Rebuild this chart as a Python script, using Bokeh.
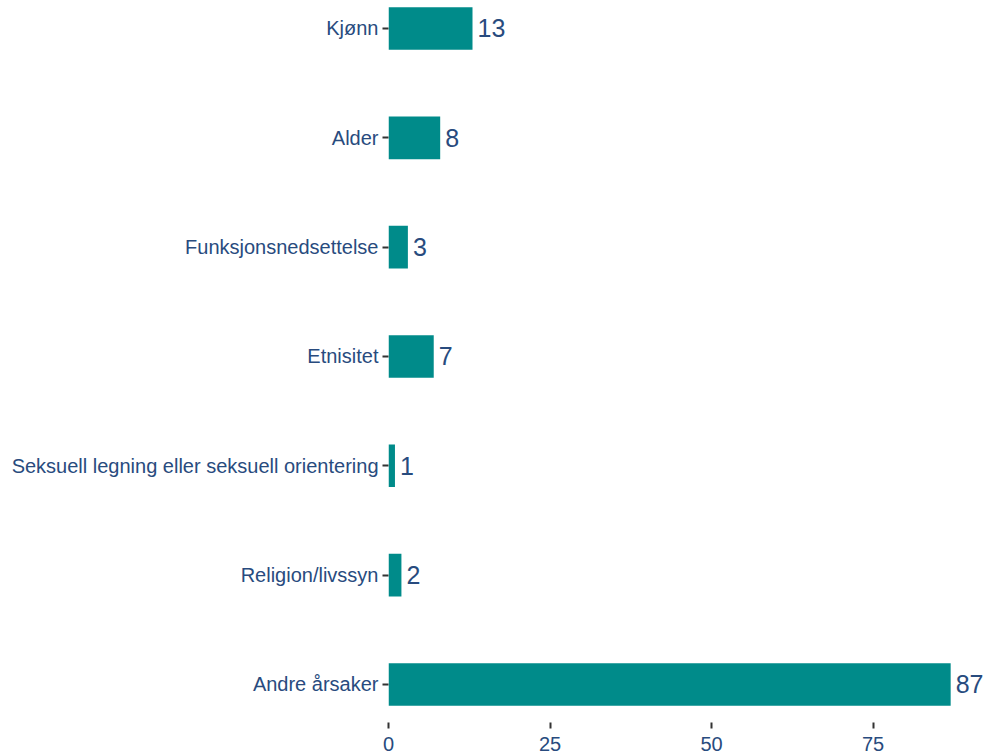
from bokeh.plotting import figure
from bokeh.models import ColumnDataSource, Range1d, FixedTicker, LabelSet
from bokeh.core.properties import value
from bokeh.embed import file_html
from bokeh.resources import INLINE

categories = ["Kjønn", "Alder", "Funksjonsnedsettelse", "Etnisitet",
              "Seksuell legning eller seksuell orientering", "Religion/livssyn",
              "Andre årsaker"]
values = [13, 8, 3, 7, 1, 2, 87]
x_ticks = [0, 25, 50, 75]

FONT = "Liberation Sans"
TEXT_COLOR = "#284B7E"
BAR_COLOR = "#008B8A"

pos = list(range(len(categories)))
src = ColumnDataSource(dict(y=pos, value=values, label=[str(v) for v in values]))

p = figure(width=987, height=755, output_backend="svg", toolbar_location=None,
           x_range=Range1d(0, 92.7), y_range=Range1d(6.348, -0.256),
           min_border_left=388, min_border_right=0, min_border_top=0,
           min_border_bottom=33)
p.outline_line_color = None
p.xgrid.grid_line_color = None
p.ygrid.grid_line_color = None

p.hbar(y="y", right="value", left=0, height=0.39, source=src,
       fill_color=BAR_COLOR, line_color=None)

labels = LabelSet(x="value", y="y", text="label", source=src, x_offset=5,
                  text_baseline="middle", text_align="left",
                  text_font=value(FONT), text_font_size="25px",
                  text_color=TEXT_COLOR)
p.add_layout(labels)

for ax in (p.xaxis[0], p.yaxis[0]):
    ax.axis_line_color = None
    ax.major_tick_in = 0
    ax.major_tick_out = 6
    ax.major_tick_line_color = "#333333"
    ax.major_tick_line_width = 2
    ax.minor_tick_line_color = None
    ax.major_label_text_font = FONT
    ax.major_label_text_font_size = "20px"
    ax.major_label_text_color = TEXT_COLOR

p.xaxis.ticker = FixedTicker(ticks=x_ticks)
p.xaxis.major_label_standoff = 8
p.yaxis.ticker = FixedTicker(ticks=pos)
p.yaxis.major_label_overrides = {i: c for i, c in enumerate(categories)}
p.yaxis.major_label_standoff = 4

open("out.html", "w").write(file_html(p, INLINE))
